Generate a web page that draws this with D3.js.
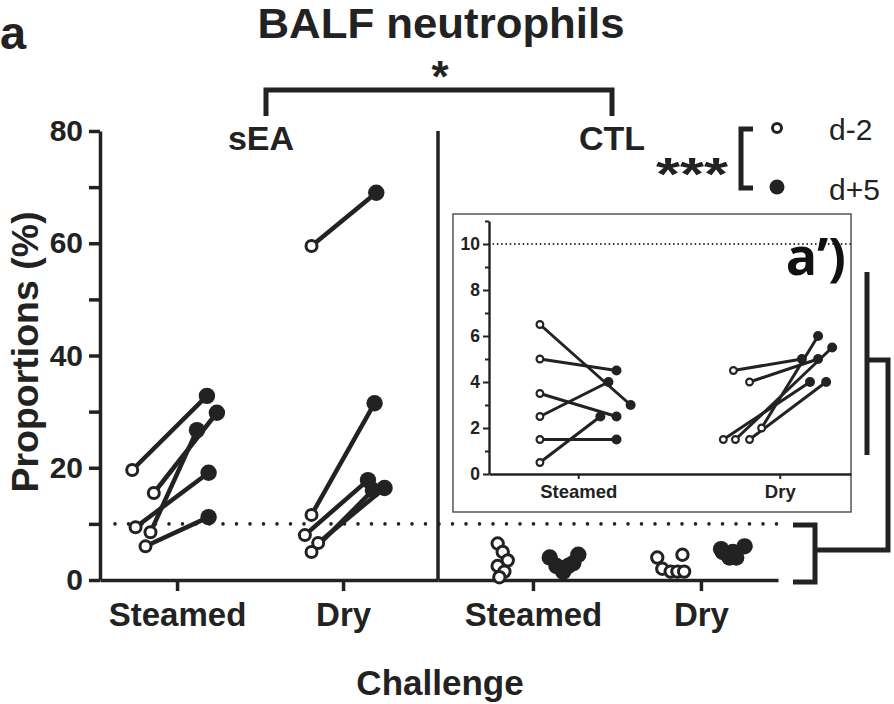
<!DOCTYPE html>
<html><head><meta charset="utf-8">
<script src="https://cdn.jsdelivr.net/npm/d3@7"></script>
<style>
html,body{margin:0;padding:0;background:#fff;}
svg{display:block;font-family:"Liberation Sans",Arial,sans-serif;}
</style></head>
<body><svg id="chart" width="894" height="704"></svg>
<script>
// ---------- data ----------
const challenges = ["Steamed", "Dry"];
const panels = ["sEA", "CTL"];
const yTickValues = [0, 10, 20, 30, 40, 50, 60, 70, 80];
const yTickLabels = [0, 20, 40, 60, 80];
const insetTickValues = [0,1,2,3,4,5,6,7,8,9,10,11];
const insetTickLabels = [0, 2, 4, 6, 8, 10];
const threshold = 10;
const legendLabels = ["d-2", "d+5"];

// sEA (paired d-2 -> d+5)
const seaSteamedD2 = [19.6, 15.5, 9.4, 8.5, 6.0];
const seaSteamedD5 = [32.8, 29.8, 19.1, 26.7, 11.2];
const seaDryD2 = [59.5, 11.6, 8.0, 6.6, 5.0];
const seaDryD5 = [69.0, 31.5, 17.8, 16.4, 16.0];
// CTL (paired d-2 -> d+5)
const ctlSteamedD2 = [6.5, 5, 3.5, 2.5, 1.5, 0.5];
const ctlSteamedD5 = [3, 4.5, 2.5, 4, 1.5, 2.5];
const ctlDryD2 = [4.5, 4, 2, 1.5, 1.5, 1.5];
const ctlDryD5 = [5, 5, 6, 4, 5.5, 4];

// horizontal jitter (fraction of category step)
const jSeaSteamedD2 = [-0.27,-0.14,-0.25,-0.16,-0.19];
const jSeaSteamedD5 = [0.18,0.24,0.19,0.12,0.19];
const jSeaDryD2 = [-0.19,-0.19,-0.23,-0.15,-0.19];
const jSeaDryD5 = [0.20,0.19,0.15,0.25,0.18];
const jCtlSteamedD2 = [-0.21,-0.18,-0.15,-0.21,-0.17,-0.20];
const jCtlSteamedD5 = [0.24,0.27,0.14,0.10,0.18,0.21];
const jCtlDryD2 = [-0.11,-0.26,-0.23,-0.18,-0.14,-0.10];
const jCtlDryD5 = [0.13,0.19,0.26,0.17,0.12,0.21];
const jInSteamedD2 = [-0.19,-0.19,-0.19,-0.19,-0.19,-0.19];
const jInSteamedD5 = [0.26,0.19,0.19,0.15,0.19,0.11];
const jInDryD2 = [-0.23,-0.15,-0.09,-0.28,-0.22,-0.15];
const jInDryD5 = [0.11,0.19,0.19,0.15,0.26,0.23];

// ---------- drawing ----------
const INK = "#222";
const svg = d3.select("#chart");

const y = d3.scaleLinear().domain([0, 80]).range([580, 131]);
const xSea = d3.scalePoint().domain(challenges).range([100, 438]).padding(0.518).align(0.448);
const xCtl = d3.scalePoint().domain(challenges).range([438, 778]).padding(0.512).align(0.552);

// y axis
const yAxis = d3.axisLeft(y).tickValues(yTickValues).tickSize(11).tickSizeOuter(0)
  .tickPadding(6).tickFormat(d => yTickLabels.includes(d) ? d : "");
const gy = svg.append("g").attr("transform", "translate(100,0)").call(yAxis);
gy.select(".domain").attr("stroke", INK).attr("stroke-width", 3.5);
gy.selectAll(".tick line").attr("stroke", INK).attr("stroke-width", 3.5);
gy.selectAll(".tick text").attr("fill", INK).attr("font-size", 30).attr("font-weight", "bold")
  .attr("font-family", "Liberation Sans, Arial, sans-serif");

// x axes
[xSea, xCtl].forEach(sc => {
  const g = svg.append("g").attr("transform", "translate(0,580)")
    .call(d3.axisBottom(sc).tickSize(11).tickSizeOuter(0).tickPadding(10));
  g.select(".domain").attr("stroke", INK).attr("stroke-width", 3.5);
  g.selectAll(".tick line").attr("stroke", INK).attr("stroke-width", 3.5);
  g.selectAll(".tick text").attr("fill", INK).attr("font-size", 33).attr("font-weight", "bold")
    .attr("font-family", "Liberation Sans, Arial, sans-serif").attr("dy", "0.75em");
});

// divider between panels
svg.append("line").attr("x1", 438).attr("x2", 438).attr("y1", y(80)).attr("y2", y(0))
  .attr("stroke", INK).attr("stroke-width", 3.5);

// threshold dotted line
svg.append("line").attr("x1", 115).attr("x2", 778).attr("y1", y(threshold)).attr("y2", y(threshold))
  .attr("stroke", INK).attr("stroke-width", 3.6).attr("stroke-linecap", "round")
  .attr("stroke-dasharray", "0 13.5");

// panel labels
svg.append("text").attr("x", 261).attr("y", 150).attr("text-anchor", "middle")
  .attr("font-size", 34).attr("font-weight", "bold").attr("fill", INK).text(panels[0]);
svg.append("text").attr("x", 612).attr("y", 150).attr("text-anchor", "middle")
  .attr("font-size", 34).attr("font-weight", "bold").attr("fill", INK).text(panels[1]);

function paired(sc, cat, d2, d5, j2, j5, yS, opts) {
  const step = sc.step();
  const pts = d2.map((v, i) => ({
    x1: sc(cat) + j2[i] * step, y1: yS(v),
    x2: sc(cat) + j5[i] * step, y2: yS(d5[i])
  }));
  const g = svg.append("g");
  if (opts.lines) {
    g.selectAll("line").data(pts).join("line")
      .attr("x1", d => d.x1).attr("y1", d => d.y1).attr("x2", d => d.x2).attr("y2", d => d.y2)
      .attr("stroke", INK).attr("stroke-width", opts.lw);
  }
  g.selectAll("circle.o").data(pts).join("circle").attr("class", "o")
    .attr("cx", d => d.x1).attr("cy", d => d.y1).attr("r", opts.ro)
    .attr("fill", "#fff").attr("stroke", INK).attr("stroke-width", opts.sw);
  g.selectAll("circle.f").data(pts).join("circle").attr("class", "f")
    .attr("cx", d => d.x2).attr("cy", d => d.y2).attr("r", opts.rf).attr("fill", INK);
}

const mainOpts = {lines: true, lw: 4.5, ro: 5.5, sw: 3, rf: 8.2};
paired(xSea, "Steamed", seaSteamedD2, seaSteamedD5, jSeaSteamedD2, jSeaSteamedD5, y, mainOpts);
paired(xSea, "Dry", seaDryD2, seaDryD5, jSeaDryD2, jSeaDryD5, y, mainOpts);
const ctlOpts = {lines: false, ro: 5.7, sw: 3, rf: 8.2};
paired(xCtl, "Steamed", ctlSteamedD2, ctlSteamedD5, jCtlSteamedD2, jCtlSteamedD5, y, ctlOpts);
paired(xCtl, "Dry", ctlDryD2, ctlDryD5, jCtlDryD2, jCtlDryD5, y, ctlOpts);

// axis titles
svg.append("text").attr("transform", "translate(38,352) rotate(-90)").attr("text-anchor", "middle")
  .attr("font-size", 37.5).attr("font-weight", "bold").attr("fill", INK).text("Proportions (%)");
svg.append("text").attr("x", 440).attr("y", 695).attr("text-anchor", "middle")
  .attr("font-size", 35).attr("font-weight", "bold").attr("fill", INK).text("Challenge");

// title and panel letter
svg.append("text").attr("x", 441).attr("y", 38).attr("text-anchor", "middle")
  .attr("font-size", 42).attr("font-weight", "bold").attr("fill", INK)
  .attr("textLength", 367).attr("lengthAdjust", "spacingAndGlyphs").text("BALF neutrophils");
svg.append("text").attr("x", 0).attr("y", 49).attr("font-size", 47).attr("font-weight", "bold")
  .attr("fill", INK).text("a");

// significance bracket sEA vs CTL
svg.append("path").attr("d", "M266,116 V90 H612 V116").attr("fill", "none")
  .attr("stroke", INK).attr("stroke-width", 5);
svg.append("text").attr("x", 440).attr("y", 92).attr("text-anchor", "middle")
  .attr("font-size", 44).attr("font-weight", "bold").attr("fill", INK).text("*");

// legend
svg.append("text").attr("x", 692).attr("y", 190).attr("text-anchor", "middle")
  .attr("font-size", 46).attr("font-weight", "bold").attr("fill", INK)
  .attr("textLength", 72).attr("lengthAdjust", "spacingAndGlyphs").text("***");
svg.append("path").attr("d", "M753,129 H741 V188 H753").attr("fill", "none")
  .attr("stroke", INK).attr("stroke-width", 5);
svg.append("circle").attr("cx", 777).attr("cy", 128).attr("r", 4.5).attr("fill", "#fff")
  .attr("stroke", INK).attr("stroke-width", 3);
svg.append("circle").attr("cx", 777).attr("cy", 187).attr("r", 7.5).attr("fill", INK);
svg.append("text").attr("x", 829).attr("y", 140).attr("font-size", 30).attr("fill", INK).text(legendLabels[0]);
svg.append("text").attr("x", 829).attr("y", 200).attr("font-size", 30).attr("fill", INK).text(legendLabels[1]);

// ---------- inset a' ----------
svg.append("rect").attr("x", 453).attr("y", 214).attr("width", 398).attr("height", 298)
  .attr("fill", "#fff").attr("stroke", "#555").attr("stroke-width", 1.5);
const yIn = d3.scaleLinear().domain([0, 11]).range([474, 221]);
const xIn = d3.scalePoint().domain(challenges).range([489, 851]).padding(0.398).align(0.556);

svg.append("line").attr("x1", 489).attr("x2", 851).attr("y1", yIn(threshold)).attr("y2", yIn(threshold))
  .attr("stroke", INK).attr("stroke-width", 1.8).attr("stroke-linecap", "round")
  .attr("stroke-dasharray", "0 4.3");

const gyi = svg.append("g").attr("transform", "translate(489,0)")
  .call(d3.axisLeft(yIn).tickValues(insetTickValues).tickSize(4).tickSizeOuter(0).tickPadding(5)
    .tickFormat(d => insetTickLabels.includes(d) ? d : ""));
gyi.select(".domain").attr("stroke", INK).attr("stroke-width", 2.4);
gyi.selectAll(".tick line").attr("stroke", INK).attr("stroke-width", 2)
  .attr("x2", d => insetTickLabels.includes(d) ? -6 : -4);
gyi.selectAll(".tick text").attr("fill", INK).attr("font-size", 17.5).attr("font-weight", "bold")
  .attr("font-family", "Liberation Sans, Arial, sans-serif");
const gxi = svg.append("g").attr("transform", "translate(0,474)")
  .call(d3.axisBottom(xIn).tickSize(5).tickSizeOuter(0).tickPadding(6));
gxi.select(".domain").attr("stroke", INK).attr("stroke-width", 2.4);
gxi.selectAll(".tick line").attr("stroke", INK).attr("stroke-width", 2);
gxi.selectAll(".tick text").attr("fill", INK).attr("font-size", 18.5).attr("font-weight", "bold")
  .attr("font-family", "Liberation Sans, Arial, sans-serif");

const inOpts = {lines: true, lw: 3, ro: 3.4, sw: 2.1, rf: 5};
paired(xIn, "Steamed", ctlSteamedD2, ctlSteamedD5, jInSteamedD2, jInSteamedD5, yIn, inOpts);
paired(xIn, "Dry", ctlDryD2, ctlDryD5, jInDryD2, jInDryD5, yIn, inOpts);

svg.append("text").attr("x", 846).attr("y", 275).attr("text-anchor", "end")
  .attr("font-family", "Open Sans, sans-serif").attr("font-size", 52).attr("font-weight", "bold")
  .attr("fill", "#111").text("a\u2019)");

// connector brackets linking inset to CTL values
svg.append("line").attr("x1", 867).attr("x2", 867).attr("y1", 272).attr("y2", 455)
  .attr("stroke", INK).attr("stroke-width", 5);
svg.append("path").attr("d", "M867,360 H888 V550 H815").attr("fill", "none")
  .attr("stroke", INK).attr("stroke-width", 5);
svg.append("path").attr("d", "M793,525 H815 V582 H793").attr("fill", "none")
  .attr("stroke", INK).attr("stroke-width", 5);
</script></body></html>
